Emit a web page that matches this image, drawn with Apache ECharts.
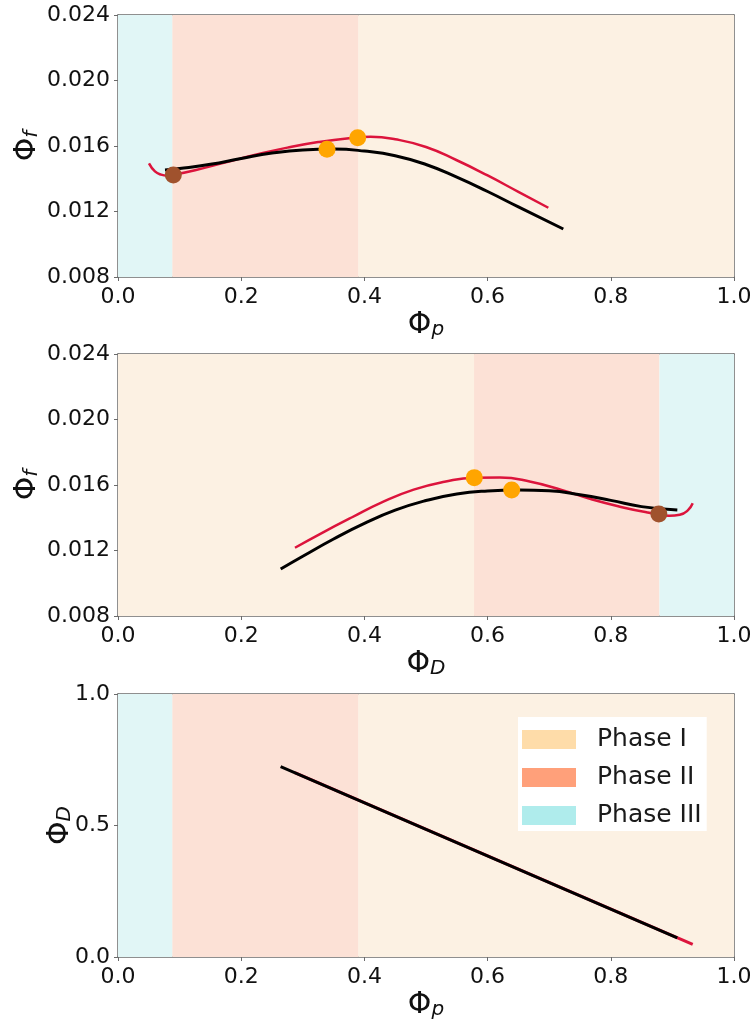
<!DOCTYPE html>
<html>
<head>
<meta charset="utf-8">
<script src="https://cdn.jsdelivr.net/npm/echarts@6/dist/echarts.min.js"></script>
<style>
  html, body { margin: 0; padding: 0; background: #fff; }
  #chart { width: 756px; height: 1031px; }
</style>
</head>
<body>
<div id="chart"></div>
<script>
// ---- data ----
const xTicks = [0, 0.2, 0.4, 0.6, 0.8, 1.0];
const phiFTicks = [0.008, 0.012, 0.016, 0.020, 0.024];
const phiDTicks = [0, 0.5, 1.0];

// Φf versus Φp
const redTop = [[0.0503,0.01494],[0.060,0.01445],[0.070,0.01425],[0.080,0.01419],[0.090,0.01424],
  [0.125,0.01452],[0.175,0.01500],[0.225,0.01548],[0.275,0.01590],[0.325,0.01624],
  [0.375,0.01648],[0.410,0.01656],[0.450,0.01641],[0.500,0.01594],[0.550,0.01513],
  [0.600,0.01420],[0.650,0.01320],[0.6986,0.01223]];
const blackTop = [[0.0763,0.01453],[0.100,0.01462],[0.150,0.01488],[0.200,0.01524],[0.250,0.01557],
  [0.300,0.01576],[0.350,0.01581],[0.400,0.01569],[0.450,0.01541],[0.500,0.01487],
  [0.550,0.01410],[0.600,0.01322],[0.650,0.01228],[0.7229,0.01093]];
const orangeTop = [[0.3393,0.01580],[0.3891,0.01651]];
const brownTop = [[0.0898,0.01423]];

// Φf versus ΦD
const redMid = [[0.2873,0.01217],[0.330,0.01305],[0.380,0.01403],[0.430,0.01497],[0.480,0.01572],
  [0.530,0.01620],[0.5784,0.01645],[0.620,0.01646],[0.670,0.01620],[0.720,0.01570],
  [0.770,0.01511],[0.820,0.01463],[0.860,0.01432],[0.895,0.01412],[0.912,0.01418],
  [0.925,0.01445],[0.933,0.01488]];
const blackMid = [[0.2641,0.01087],[0.300,0.01165],[0.350,0.01270],[0.400,0.01365],[0.450,0.01446],
  [0.500,0.01505],[0.550,0.01545],[0.600,0.01564],[0.650,0.01570],[0.700,0.01565],
  [0.750,0.01540],[0.800,0.01506],[0.850,0.01468],[0.908,0.01447]];
const orangeMid = [[0.5784,0.01645],[0.6391,0.01569]];
const brownMid = [[0.8780,0.01423]];

// ΦD versus Φp
const redBottom = [[0.287,0.701],[0.933,0.048]];
const blackBottom = [[0.264,0.724],[0.908,0.073]];

// phase ranges along each x axis
const phaseNames = ['Phase I', 'Phase II', 'Phase III'];
const phasesP = { 'Phase III': [0, 0.088], 'Phase II': [0.088, 0.39], 'Phase I': [0.39, 1.0] };
const phasesD = { 'Phase I': [0, 0.578], 'Phase II': [0.578, 0.879], 'Phase III': [0.879, 1.0] };

// ---- styling ----
const FONT = 'DejaVu Sans';
const bandColor = { 'Phase I': '#FCF1E3', 'Phase II': '#FCE1D6', 'Phase III': '#E1F6F6' };
const legendColor = { 'Phase I': '#FEDCA9', 'Phase II': '#FFA07A', 'Phase III': '#AFECEC' };
const spine = '#6b6b6b';

const grids = [
  { left: 118, top: 15, width: 616, height: 262 },
  { left: 118, top: 354, width: 616, height: 262 },
  { left: 118, top: 694, width: 616, height: 263 }
];

const nameRich = {
  phi: { fontSize: 30, fontFamily: FONT, color: '#111' },
  sub: { fontSize: 20, fontFamily: FONT, fontStyle: 'italic', color: '#111', verticalAlign: 'bottom' }
};

function mainX(gi, sub) {
  return {
    type: 'value', gridIndex: gi, min: 0, max: 1, interval: 0.2,
    name: '{phi|Φ}{sub|' + sub + '}', nameLocation: 'middle', nameGap: 33,
    nameTextStyle: { rich: nameRich },
    axisLine: { show: true, onZero: false, lineStyle: { color: spine, width: 1.5 } },
    axisTick: { show: true, inside: false, length: 4, lineStyle: { color: spine } },
    axisLabel: { fontSize: 22, fontFamily: FONT, color: '#111', margin: 9,
      formatter: v => v.toFixed(1) },
    splitLine: { show: false }
  };
}
function mainY(gi, sub, min, max, interval, digits, gap) {
  return {
    type: 'value', gridIndex: gi, min: min, max: max, interval: interval,
    name: '{phi|Φ}{sub|' + sub + '}', nameLocation: 'middle', nameGap: gap, nameRotate: 90,
    nameMoveOverlap: false,
    nameTextStyle: { rich: nameRich },
    axisLine: { show: true, onZero: false, lineStyle: { color: spine, width: 1.5 } },
    axisTick: { show: true, inside: false, length: 4, lineStyle: { color: spine } },
    axisLabel: { fontSize: 22, fontFamily: FONT, color: '#111', margin: 8,
      formatter: v => v.toFixed(digits) },
    splitLine: { show: false }
  };
}
function spineAxis(kind, gi, min, max) {
  return {
    type: 'value', gridIndex: gi, min: min, max: max,
    position: kind === 'x' ? 'top' : 'right',
    axisLine: { show: true, onZero: false, lineStyle: { color: spine, width: 1.5 } },
    axisTick: { show: false }, axisLabel: { show: false }, splitLine: { show: false }
  };
}

const xAxis = [
  mainX(0, 'p'), mainX(1, 'D'), mainX(2, 'p'),
  spineAxis('x', 0, 0, 1), spineAxis('x', 1, 0, 1), spineAxis('x', 2, 0, 1)
];
const yAxis = [
  mainY(0, 'f', phiFTicks[0], phiFTicks[phiFTicks.length - 1], 0.004, 3, 76),
  mainY(1, 'f', phiFTicks[0], phiFTicks[phiFTicks.length - 1], 0.004, 3, 76),
  mainY(2, 'D', phiDTicks[0], phiDTicks[phiDTicks.length - 1], 0.5, 1, 43),
  spineAxis('y', 0, 0, 1), spineAxis('y', 1, 0, 1), spineAxis('y', 2, 0, 1)
];

const series = [];

// shaded phase regions
function addBands(gi, ranges) {
  phaseNames.forEach(name => {
    series.push({
      name: name, type: 'line', xAxisIndex: gi, yAxisIndex: gi, data: [],
      itemStyle: { color: legendColor[name] },
      markArea: {
        silent: true,
        itemStyle: { color: bandColor[name] },
        data: [[{ xAxis: ranges[name][0] }, { xAxis: ranges[name][1] }]]
      }
    });
  });
}
addBands(0, phasesP);
addBands(1, phasesD);
addBands(2, phasesP);

function curve(gi, data, color, width) {
  series.push({
    type: 'line', xAxisIndex: gi, yAxisIndex: gi, data: data,
    smooth: 0.5, showSymbol: false, symbol: 'none',
    lineStyle: { color: color, width: width, cap: 'butt' }, z: 3
  });
}
function dots(gi, data, color) {
  series.push({
    type: 'scatter', xAxisIndex: gi, yAxisIndex: gi, data: data,
    symbolSize: 17, itemStyle: { color: color, opacity: 1 }, z: 5
  });
}

curve(0, redTop, '#DC143C', 2.5);
curve(0, blackTop, '#000000', 3);
dots(0, orangeTop, '#FFA500');
dots(0, brownTop, '#A0522D');

curve(1, redMid, '#DC143C', 2.5);
curve(1, blackMid, '#000000', 3);
dots(1, orangeMid, '#FFA500');
dots(1, brownMid, '#A0522D');

curve(2, redBottom, '#DC143C', 3);
curve(2, blackBottom, '#000000', 3);

const chart = echarts.init(document.getElementById('chart'), null, { renderer: 'canvas' });
chart.setOption({
  animation: false,
  backgroundColor: '#ffffff',
  grid: grids,
  xAxis: xAxis,
  yAxis: yAxis,
  legend: {
    data: phaseNames.map(n => ({ name: n, itemStyle: { color: legendColor[n] } })),
    selectedMode: false,
    orient: 'vertical',
    left: 518, top: 717,
    backgroundColor: '#ffffff',
    padding: [10, 5, 3, 4],
    icon: 'rect',
    itemWidth: 54, itemHeight: 19, itemGap: 13,
    textStyle: { fontSize: 25, fontFamily: FONT, color: '#1a1a1a', lineHeight: 25, padding: [0, 0, 0, 16] }
  },
  series: series
});
</script>
</body>
</html>
